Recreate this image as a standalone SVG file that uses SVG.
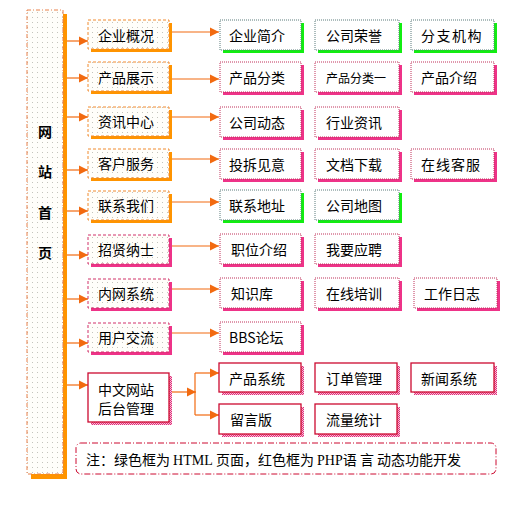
<svg xmlns="http://www.w3.org/2000/svg" width="523" height="505" viewBox="0 0 523 505">
<defs>
<pattern id="dots" width="5" height="5" patternUnits="userSpaceOnUse">
<rect width="5" height="5" fill="#fffefa"/>
<rect x="2" y="2" width="1" height="1" fill="#c4c4bc"/>
</pattern>
<pattern id="pinkdots" width="2" height="2" patternUnits="userSpaceOnUse">
<rect width="2" height="2" fill="#f8c0d8"/>
<rect width="1" height="1" fill="#e0307a"/>
<rect x="1" y="1" width="1" height="1" fill="#e0307a"/>
</pattern>
<marker id="ah" markerWidth="10" markerHeight="10" refX="9" refY="5" orient="auto" markerUnits="userSpaceOnUse">
<path d="M0,0.5 L9,5 L0,9.5 Z" fill="#f26a10"/>
</marker>
</defs>
<style>
text{font-family:"Noto Sans CJK SC","Liberation Sans",sans-serif;font-size:14px;fill:#000}
.l1o{fill:url(#dots);stroke:#f08a30;stroke-width:1;stroke-dasharray:3 2}
.l1r{fill:url(#dots);stroke:#d0306a;stroke-width:1;stroke-dasharray:3 2}
.sho{fill:#ff9400}
.shp{fill:#ee3388}
.shg{fill:#11ee11}
.shs{fill:url(#pinkdots)}
.g{fill:#fff;stroke:#5a7a7a;stroke-width:1;stroke-dasharray:1 1}
.p{fill:#fff;stroke:#c0305a;stroke-width:1;stroke-dasharray:1 1}
.s{fill:#fff;stroke:#cc0a30;stroke-width:1.3}
.c{fill:none;stroke:#f26a10;stroke-width:1.2}
.a{marker-end:url(#ah)}
</style>

<g id="root">
<rect x="31" y="14" width="36" height="465" class="sho"/>
<rect x="27" y="10" width="36" height="464" fill="url(#dots)" stroke="#e8804a" stroke-width="1" stroke-dasharray="4 2 1 2"/>
<text x="45" y="137" text-anchor="middle" font-weight="bold">网</text>
<text x="45" y="177" text-anchor="middle" font-weight="bold">站</text>
<text x="45" y="218" text-anchor="middle" font-weight="bold">首</text>
<text x="45" y="258" text-anchor="middle" font-weight="bold">页</text>
</g>

<g id="connectors">
<path class="c a" d="M67,41 H88"/>
<path class="c a" d="M67,78 H88"/>
<path class="c a" d="M67,117 H88"/>
<path class="c a" d="M67,170 H88"/>
<path class="c a" d="M67,211 H88"/>
<path class="c a" d="M67,255 H88"/>
<path class="c a" d="M67,299 H88"/>
<path class="c a" d="M67,343 H88"/>
<path class="c a" d="M67,385 H88"/>
<path class="c a" d="M172,32 H219"/>
<path class="c a" d="M172,79 H219"/>
<path class="c a" d="M172,117 H219"/>
<path class="c a" d="M172,159 H219"/>
<path class="c a" d="M172,202 H219"/>
<path class="c a" d="M172,246 H219"/>
<path class="c a" d="M172,289 H219"/>
<path class="c a" d="M172,333 H219"/>
<path class="c a" d="M172,392 H196"/>
<path class="c" d="M195,373 V415"/>
<path class="c a" d="M195,373 H219"/>
<path class="c a" d="M195,415 H219"/>
</g>

<g id="n-qiye"><rect x="91" y="23" width="81" height="29" class="sho"/><rect x="88" y="20" width="81" height="29" class="l1o"/><text x="98" y="41">企业概况</text></g>
<g id="n-chanpin"><rect x="91" y="65" width="81" height="29" class="sho"/><rect x="88" y="62" width="81" height="29" class="l1o"/><text x="98" y="83">产品展示</text></g>
<g id="n-zixun"><rect x="91" y="110" width="81" height="29" class="sho"/><rect x="88" y="107" width="81" height="29" class="l1o"/><text x="98" y="127">资讯中心</text></g>
<g id="n-kehu"><rect x="91" y="152" width="81" height="29" class="sho"/><rect x="88" y="149" width="81" height="29" class="l1o"/><text x="98" y="169">客户服务</text></g>
<g id="n-lianxi"><rect x="91" y="194" width="81" height="29" class="sho"/><rect x="88" y="191" width="81" height="29" class="l1o"/><text x="98" y="211">联系我们</text></g>
<g id="n-zhaoxian"><rect x="91" y="238" width="81" height="29" class="shp"/><rect x="88" y="235" width="81" height="29" class="l1r"/><text x="98" y="255">招贤纳士</text></g>
<g id="n-neiwang"><rect x="91" y="282" width="81" height="29" class="shp"/><rect x="88" y="279" width="81" height="29" class="l1r"/><text x="98" y="299">内网系统</text></g>
<g id="n-yonghu"><rect x="91" y="326" width="81" height="29" class="shp"/><rect x="88" y="323" width="81" height="29" class="l1r"/><text x="98" y="343">用户交流</text></g>
<g id="n-houtai"><rect x="91" y="376" width="81" height="49" class="shs"/><rect x="88" y="373" width="81" height="49" class="s"/><text x="98" y="395">中文网站</text><text x="98" y="414">后台管理</text></g>

<g id="n-qyjj"><rect x="223" y="23" width="81" height="30" class="shg"/><rect x="220" y="20" width="81" height="30" class="g"/><text x="229" y="41">企业简介</text></g>
<g id="n-gsry"><rect x="318" y="23" width="84" height="30" class="shg"/><rect x="315" y="20" width="84" height="30" class="g"/><text x="326" y="41">公司荣誉</text></g>
<g id="n-fzjg"><rect x="414" y="23" width="83" height="30" class="shg"/><rect x="411" y="20" width="83" height="30" class="g"/><text x="421" y="41" letter-spacing="1.5">分支机构</text></g>

<g id="n-cpfl"><rect x="223" y="65" width="81" height="30" class="shp"/><rect x="220" y="62" width="81" height="30" class="p"/><text x="229" y="83">产品分类</text></g>
<g id="n-cpfl1"><rect x="318" y="65" width="84" height="30" class="shp"/><rect x="315" y="62" width="84" height="30" class="p"/><text x="326" y="83" style="font-size:12px">产品分类一</text></g>
<g id="n-cpjs"><rect x="414" y="65" width="83" height="30" class="shp"/><rect x="411" y="62" width="83" height="30" class="p"/><text x="421" y="83">产品介绍</text></g>

<g id="n-gsdt"><rect x="223" y="110" width="81" height="30" class="shp"/><rect x="220" y="107" width="81" height="30" class="p"/><text x="229" y="128">公司动态</text></g>
<g id="n-hyzx"><rect x="318" y="110" width="84" height="30" class="shp"/><rect x="315" y="107" width="84" height="30" class="p"/><text x="326" y="128">行业资讯</text></g>

<g id="n-tsjy"><rect x="223" y="152" width="81" height="30" class="shp"/><rect x="220" y="149" width="81" height="30" class="p"/><text x="229" y="170">投拆见意</text></g>
<g id="n-wdxz"><rect x="318" y="152" width="84" height="30" class="shp"/><rect x="315" y="149" width="84" height="30" class="p"/><text x="326" y="170">文档下载</text></g>
<g id="n-zxkf"><rect x="414" y="152" width="83" height="30" class="shp"/><rect x="411" y="149" width="83" height="30" class="p"/><text x="421" y="170" letter-spacing="1">在线客服</text></g>

<g id="n-lxdz"><rect x="223" y="193" width="81" height="30" class="shg"/><rect x="220" y="190" width="81" height="30" class="g"/><text x="229" y="211">联系地址</text></g>
<g id="n-gsdt2"><rect x="318" y="193" width="84" height="30" class="shg"/><rect x="315" y="190" width="84" height="30" class="g"/><text x="326" y="211">公司地图</text></g>

<g id="n-zwjs"><rect x="223" y="237" width="81" height="30" class="shp"/><rect x="220" y="234" width="81" height="30" class="p"/><text x="231" y="255">职位介绍</text></g>
<g id="n-wyyp"><rect x="318" y="237" width="84" height="30" class="shp"/><rect x="315" y="234" width="84" height="30" class="p"/><text x="326" y="255">我要应聘</text></g>

<g id="n-zsk"><rect x="223" y="281" width="81" height="30" class="shp"/><rect x="220" y="278" width="81" height="30" class="p"/><text x="231" y="299">知识库</text></g>
<g id="n-zxpx"><rect x="318" y="281" width="84" height="30" class="shp"/><rect x="315" y="278" width="84" height="30" class="p"/><text x="326" y="299">在线培训</text></g>
<g id="n-gzrz"><rect x="417" y="281" width="83" height="30" class="shp"/><rect x="414" y="278" width="83" height="30" class="p"/><text x="424" y="299">工作日志</text></g>

<g id="n-bbs"><rect x="223" y="325" width="81" height="30" class="shp"/><rect x="220" y="322" width="81" height="30" class="p"/><text x="229" y="343">BBS论坛</text></g>

<g id="n-cpxt"><rect x="222" y="366" width="82" height="29" class="shs"/><rect x="219" y="363" width="82" height="29" class="s"/><text x="229" y="384">产品系统</text></g>
<g id="n-ddgl"><rect x="318" y="366" width="82" height="29" class="shs"/><rect x="315" y="363" width="82" height="29" class="s"/><text x="326" y="384">订单管理</text></g>
<g id="n-xwxt"><rect x="414" y="366" width="83" height="29" class="shs"/><rect x="411" y="363" width="83" height="29" class="s"/><text x="421" y="384">新闻系统</text></g>
<g id="n-lyb"><rect x="222" y="407" width="82" height="30" class="shs"/><rect x="219" y="404" width="82" height="30" class="s"/><text x="230" y="425">留言版</text></g>
<g id="n-llsj"><rect x="318" y="407" width="82" height="30" class="shs"/><rect x="315" y="404" width="82" height="30" class="s"/><text x="326" y="425">流量统计</text></g>

<g id="note">
<rect x="76" y="443" width="420" height="31" rx="5" fill="#fff" stroke="#cc0a30" stroke-width="1" stroke-dasharray="6 2 1 2"/>
<text x="86" y="465" textLength="375" lengthAdjust="spacing">注：绿色框为 <tspan style="font-family:'Liberation Serif',serif">HTML</tspan> 页面，红色框为 <tspan style="font-family:'Liberation Serif',serif">PHP</tspan>语 言 动态功能开发</text>
</g>
</svg>
